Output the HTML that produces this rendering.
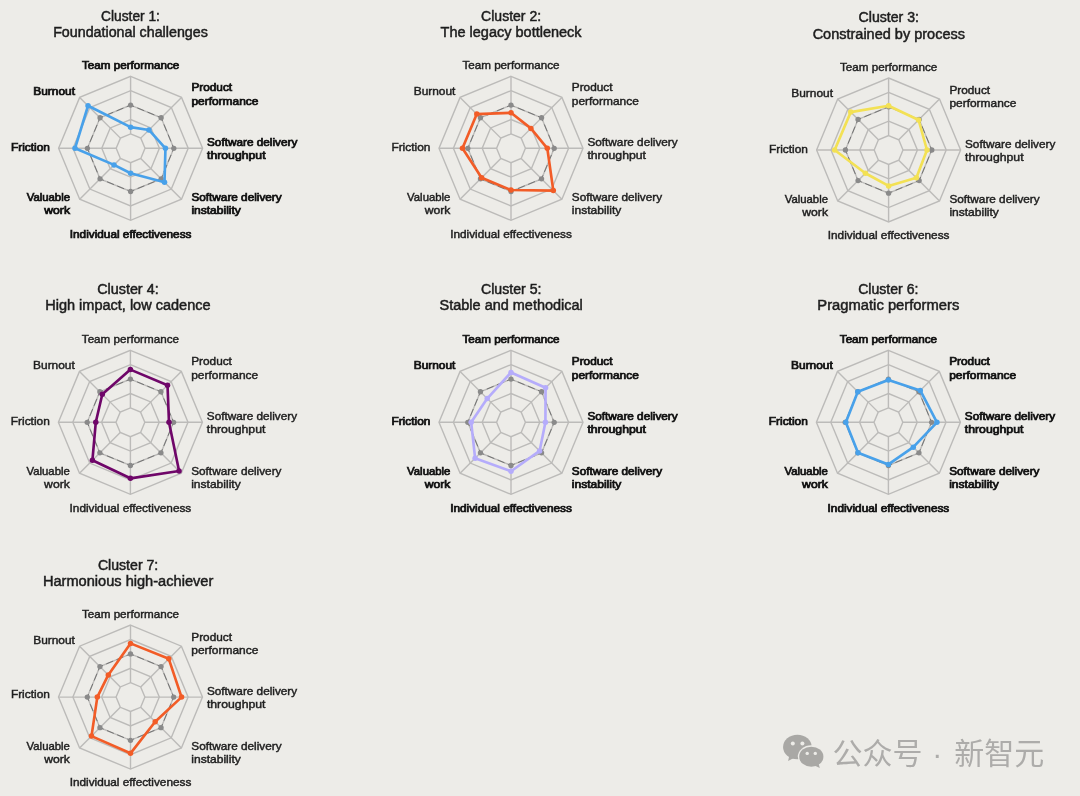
<!DOCTYPE html>
<html lang="en"><head><meta charset="utf-8"><title>Clusters</title>
<style>html,body{margin:0;padding:0;background:#edece8}body{width:1080px;height:796px;overflow:hidden}svg{display:block}
text{font-family:"Liberation Sans","Noto Sans CJK SC",sans-serif}
.t{font-size:14px;fill:#1d1d1d;stroke:#1d1d1d;stroke-width:.48px;text-anchor:middle}
.l{font-size:10.5px;fill:#1e1e1e;stroke:#1e1e1e;stroke-width:.42px}
.b{font-size:10.5px;fill:#111;stroke:#111;stroke-width:.72px}
.m{text-anchor:middle}.e{text-anchor:end}
.g{fill:none;stroke:#bcbbb9;stroke-width:1.4}
.d{fill:none;stroke:#737373;stroke-width:1;stroke-dasharray:7.4 3.6;stroke-dashoffset:3.7}
.k{fill:#8a8a8a}
.wm{font-size:30px;fill:#adacaa}
</style></head><body>
<svg width="1080" height="796" viewBox="0 0 1080 796">
<rect width="1080" height="796" fill="#edece8"/>
<g>
<text x="130.5" y="20.5" class="t" textLength="58.8" lengthAdjust="spacingAndGlyphs">Cluster 1:</text>
<text x="130.5" y="36.9" class="t" textLength="154.7" lengthAdjust="spacingAndGlyphs">Foundational challenges</text>
<polygon class="g" points="130.60,133.90 140.78,138.12 145.00,148.30 140.78,158.48 130.60,162.70 120.42,158.48 116.20,148.30 120.42,138.12"/>
<polygon class="g" points="130.60,119.50 150.96,127.94 159.40,148.30 150.96,168.66 130.60,177.10 110.24,168.66 101.80,148.30 110.24,127.94"/>
<polygon class="g" points="130.60,105.10 161.15,117.75 173.80,148.30 161.15,178.85 130.60,191.50 100.05,178.85 87.40,148.30 100.05,117.75"/>
<polygon class="g" points="130.60,90.70 171.33,107.57 188.20,148.30 171.33,189.03 130.60,205.90 89.87,189.03 73.00,148.30 89.87,107.57"/>
<polygon class="g" points="130.60,76.30 181.51,97.39 202.60,148.30 181.51,199.21 130.60,220.30 79.69,199.21 58.60,148.30 79.69,97.39"/>
<line class="g" x1="130.60" y1="133.90" x2="130.60" y2="76.30"/>
<line class="g" x1="140.78" y1="138.12" x2="181.51" y2="97.39"/>
<line class="g" x1="145.00" y1="148.30" x2="202.60" y2="148.30"/>
<line class="g" x1="140.78" y1="158.48" x2="181.51" y2="199.21"/>
<line class="g" x1="130.60" y1="162.70" x2="130.60" y2="220.30"/>
<line class="g" x1="120.42" y1="158.48" x2="79.69" y2="199.21"/>
<line class="g" x1="116.20" y1="148.30" x2="58.60" y2="148.30"/>
<line class="g" x1="120.42" y1="138.12" x2="79.69" y2="97.39"/>
<polygon class="d" points="130.60,105.10 161.15,117.75 173.80,148.30 161.15,178.85 130.60,191.50 100.05,178.85 87.40,148.30 100.05,117.75"/>
<circle class="k" cx="130.60" cy="105.10" r="2.65"/>
<circle class="k" cx="161.15" cy="117.75" r="2.65"/>
<circle class="k" cx="173.80" cy="148.30" r="2.65"/>
<circle class="k" cx="161.15" cy="178.85" r="2.65"/>
<circle class="k" cx="130.60" cy="191.50" r="2.65"/>
<circle class="k" cx="100.05" cy="178.85" r="2.65"/>
<circle class="k" cx="87.40" cy="148.30" r="2.65"/>
<circle class="k" cx="100.05" cy="117.75" r="2.65"/>
<polygon fill="none" stroke="#48a1ea" stroke-width="2.65" stroke-linejoin="round" points="130.60,127.13 148.93,129.97 165.45,148.30 164.51,182.21 130.60,173.21 114.00,164.90 75.02,148.30 88.04,105.74"/>
<circle fill="#48a1ea" cx="130.60" cy="127.13" r="2.75"/>
<circle fill="#48a1ea" cx="148.93" cy="129.97" r="2.75"/>
<circle fill="#48a1ea" cx="165.45" cy="148.30" r="2.75"/>
<circle fill="#48a1ea" cx="164.51" cy="182.21" r="2.75"/>
<circle fill="#48a1ea" cx="130.60" cy="173.21" r="2.75"/>
<circle fill="#48a1ea" cx="114.00" cy="164.90" r="2.75"/>
<circle fill="#48a1ea" cx="75.02" cy="148.30" r="2.75"/>
<circle fill="#48a1ea" cx="88.04" cy="105.74" r="2.75"/>
<text x="130.6" y="68.9" class="b m" textLength="97.2" lengthAdjust="spacingAndGlyphs">Team performance</text>
<text x="75.0" y="95.0" class="b e" textLength="41.7" lengthAdjust="spacingAndGlyphs">Burnout</text>
<text x="191.4" y="91.3" class="b" textLength="40.7" lengthAdjust="spacingAndGlyphs">Product</text>
<text x="191.4" y="104.6" class="b" textLength="67.0" lengthAdjust="spacingAndGlyphs">performance</text>
<text x="207.0" y="146.0" class="b" textLength="90.3" lengthAdjust="spacingAndGlyphs">Software delivery</text>
<text x="207.0" y="159.3" class="b" textLength="58.6" lengthAdjust="spacingAndGlyphs">throughput</text>
<text x="50.0" y="151.0" class="b e" textLength="39.0" lengthAdjust="spacingAndGlyphs">Friction</text>
<text x="70.0" y="200.6" class="b e" textLength="43.3" lengthAdjust="spacingAndGlyphs">Valuable</text>
<text x="70.0" y="213.7" class="b e" textLength="25.7" lengthAdjust="spacingAndGlyphs">work</text>
<text x="191.4" y="200.8" class="b" textLength="90.3" lengthAdjust="spacingAndGlyphs">Software delivery</text>
<text x="191.4" y="213.8" class="b" textLength="49.5" lengthAdjust="spacingAndGlyphs">instability</text>
<text x="130.6" y="237.9" class="b m" textLength="121.7" lengthAdjust="spacingAndGlyphs">Individual effectiveness</text>
</g>
<g>
<text x="511.1" y="20.5" class="t" textLength="60.0" lengthAdjust="spacingAndGlyphs">Cluster 2:</text>
<text x="511.1" y="36.9" class="t" textLength="141.0" lengthAdjust="spacingAndGlyphs">The legacy bottleneck</text>
<polygon class="g" points="511.00,133.90 521.18,138.12 525.40,148.30 521.18,158.48 511.00,162.70 500.82,158.48 496.60,148.30 500.82,138.12"/>
<polygon class="g" points="511.00,119.50 531.36,127.94 539.80,148.30 531.36,168.66 511.00,177.10 490.64,168.66 482.20,148.30 490.64,127.94"/>
<polygon class="g" points="511.00,105.10 541.55,117.75 554.20,148.30 541.55,178.85 511.00,191.50 480.45,178.85 467.80,148.30 480.45,117.75"/>
<polygon class="g" points="511.00,90.70 551.73,107.57 568.60,148.30 551.73,189.03 511.00,205.90 470.27,189.03 453.40,148.30 470.27,107.57"/>
<polygon class="g" points="511.00,76.30 561.91,97.39 583.00,148.30 561.91,199.21 511.00,220.30 460.09,199.21 439.00,148.30 460.09,97.39"/>
<line class="g" x1="511.00" y1="133.90" x2="511.00" y2="76.30"/>
<line class="g" x1="521.18" y1="138.12" x2="561.91" y2="97.39"/>
<line class="g" x1="525.40" y1="148.30" x2="583.00" y2="148.30"/>
<line class="g" x1="521.18" y1="158.48" x2="561.91" y2="199.21"/>
<line class="g" x1="511.00" y1="162.70" x2="511.00" y2="220.30"/>
<line class="g" x1="500.82" y1="158.48" x2="460.09" y2="199.21"/>
<line class="g" x1="496.60" y1="148.30" x2="439.00" y2="148.30"/>
<line class="g" x1="500.82" y1="138.12" x2="460.09" y2="97.39"/>
<polygon class="d" points="511.00,105.10 541.55,117.75 554.20,148.30 541.55,178.85 511.00,191.50 480.45,178.85 467.80,148.30 480.45,117.75"/>
<circle class="k" cx="511.00" cy="105.10" r="2.65"/>
<circle class="k" cx="541.55" cy="117.75" r="2.65"/>
<circle class="k" cx="554.20" cy="148.30" r="2.65"/>
<circle class="k" cx="541.55" cy="178.85" r="2.65"/>
<circle class="k" cx="511.00" cy="191.50" r="2.65"/>
<circle class="k" cx="480.45" cy="178.85" r="2.65"/>
<circle class="k" cx="467.80" cy="148.30" r="2.65"/>
<circle class="k" cx="480.45" cy="117.75" r="2.65"/>
<polygon fill="none" stroke="#f25c27" stroke-width="2.65" stroke-linejoin="round" points="511.00,112.80 530.91,128.39 547.29,148.30 553.31,190.61 511.00,189.99 481.62,177.68 462.47,148.30 476.79,114.09"/>
<circle fill="#f25c27" cx="511.00" cy="112.80" r="2.75"/>
<circle fill="#f25c27" cx="530.91" cy="128.39" r="2.75"/>
<circle fill="#f25c27" cx="547.29" cy="148.30" r="2.75"/>
<circle fill="#f25c27" cx="553.31" cy="190.61" r="2.75"/>
<circle fill="#f25c27" cx="511.00" cy="189.99" r="2.75"/>
<circle fill="#f25c27" cx="481.62" cy="177.68" r="2.75"/>
<circle fill="#f25c27" cx="462.47" cy="148.30" r="2.75"/>
<circle fill="#f25c27" cx="476.79" cy="114.09" r="2.75"/>
<text x="511.0" y="68.9" class="l m" textLength="97.2" lengthAdjust="spacingAndGlyphs">Team performance</text>
<text x="455.4" y="95.0" class="l e" textLength="41.7" lengthAdjust="spacingAndGlyphs">Burnout</text>
<text x="571.8" y="91.3" class="l" textLength="40.7" lengthAdjust="spacingAndGlyphs">Product</text>
<text x="571.8" y="104.6" class="l" textLength="67.0" lengthAdjust="spacingAndGlyphs">performance</text>
<text x="587.4" y="146.0" class="l" textLength="90.3" lengthAdjust="spacingAndGlyphs">Software delivery</text>
<text x="587.4" y="159.3" class="l" textLength="58.6" lengthAdjust="spacingAndGlyphs">throughput</text>
<text x="430.4" y="151.0" class="l e" textLength="39.0" lengthAdjust="spacingAndGlyphs">Friction</text>
<text x="450.4" y="200.6" class="l e" textLength="43.3" lengthAdjust="spacingAndGlyphs">Valuable</text>
<text x="450.4" y="213.7" class="l e" textLength="25.7" lengthAdjust="spacingAndGlyphs">work</text>
<text x="571.8" y="200.8" class="l" textLength="90.3" lengthAdjust="spacingAndGlyphs">Software delivery</text>
<text x="571.8" y="213.8" class="l" textLength="49.5" lengthAdjust="spacingAndGlyphs">instability</text>
<text x="511.0" y="237.9" class="l m" textLength="121.7" lengthAdjust="spacingAndGlyphs">Individual effectiveness</text>
</g>
<g>
<text x="888.8" y="22.2" class="t" textLength="60.5" lengthAdjust="spacingAndGlyphs">Cluster 3:</text>
<text x="888.8" y="38.6" class="t" textLength="152.3" lengthAdjust="spacingAndGlyphs">Constrained by process</text>
<polygon class="g" points="888.60,135.60 898.78,139.82 903.00,150.00 898.78,160.18 888.60,164.40 878.42,160.18 874.20,150.00 878.42,139.82"/>
<polygon class="g" points="888.60,121.20 908.96,129.64 917.40,150.00 908.96,170.36 888.60,178.80 868.24,170.36 859.80,150.00 868.24,129.64"/>
<polygon class="g" points="888.60,106.80 919.15,119.45 931.80,150.00 919.15,180.55 888.60,193.20 858.05,180.55 845.40,150.00 858.05,119.45"/>
<polygon class="g" points="888.60,92.40 929.33,109.27 946.20,150.00 929.33,190.73 888.60,207.60 847.87,190.73 831.00,150.00 847.87,109.27"/>
<polygon class="g" points="888.60,78.00 939.51,99.09 960.60,150.00 939.51,200.91 888.60,222.00 837.69,200.91 816.60,150.00 837.69,99.09"/>
<line class="g" x1="888.60" y1="135.60" x2="888.60" y2="78.00"/>
<line class="g" x1="898.78" y1="139.82" x2="939.51" y2="99.09"/>
<line class="g" x1="903.00" y1="150.00" x2="960.60" y2="150.00"/>
<line class="g" x1="898.78" y1="160.18" x2="939.51" y2="200.91"/>
<line class="g" x1="888.60" y1="164.40" x2="888.60" y2="222.00"/>
<line class="g" x1="878.42" y1="160.18" x2="837.69" y2="200.91"/>
<line class="g" x1="874.20" y1="150.00" x2="816.60" y2="150.00"/>
<line class="g" x1="878.42" y1="139.82" x2="837.69" y2="99.09"/>
<polygon class="d" points="888.60,106.80 919.15,119.45 931.80,150.00 919.15,180.55 888.60,193.20 858.05,180.55 845.40,150.00 858.05,119.45"/>
<circle class="k" cx="888.60" cy="106.80" r="2.65"/>
<circle class="k" cx="919.15" cy="119.45" r="2.65"/>
<circle class="k" cx="931.80" cy="150.00" r="2.65"/>
<circle class="k" cx="919.15" cy="180.55" r="2.65"/>
<circle class="k" cx="888.60" cy="193.20" r="2.65"/>
<circle class="k" cx="858.05" cy="180.55" r="2.65"/>
<circle class="k" cx="845.40" cy="150.00" r="2.65"/>
<circle class="k" cx="858.05" cy="119.45" r="2.65"/>
<polygon fill="none" stroke="#f3e154" stroke-width="2.65" stroke-linejoin="round" points="888.60,105.79 918.59,120.01 926.98,150.00 916.40,177.80 888.60,185.93 865.38,173.22 834.67,150.00 850.72,112.12"/>
<circle fill="#f3e154" cx="888.60" cy="105.79" r="2.75"/>
<circle fill="#f3e154" cx="918.59" cy="120.01" r="2.75"/>
<circle fill="#f3e154" cx="926.98" cy="150.00" r="2.75"/>
<circle fill="#f3e154" cx="916.40" cy="177.80" r="2.75"/>
<circle fill="#f3e154" cx="888.60" cy="185.93" r="2.75"/>
<circle fill="#f3e154" cx="865.38" cy="173.22" r="2.75"/>
<circle fill="#f3e154" cx="834.67" cy="150.00" r="2.75"/>
<circle fill="#f3e154" cx="850.72" cy="112.12" r="2.75"/>
<text x="888.6" y="70.6" class="l m" textLength="97.2" lengthAdjust="spacingAndGlyphs">Team performance</text>
<text x="833.0" y="96.7" class="l e" textLength="41.7" lengthAdjust="spacingAndGlyphs">Burnout</text>
<text x="949.4" y="93.9" class="l" textLength="40.7" lengthAdjust="spacingAndGlyphs">Product</text>
<text x="949.4" y="107.2" class="l" textLength="67.0" lengthAdjust="spacingAndGlyphs">performance</text>
<text x="965.0" y="147.7" class="l" textLength="90.3" lengthAdjust="spacingAndGlyphs">Software delivery</text>
<text x="965.0" y="161.0" class="l" textLength="58.6" lengthAdjust="spacingAndGlyphs">throughput</text>
<text x="808.0" y="153.3" class="l e" textLength="39.0" lengthAdjust="spacingAndGlyphs">Friction</text>
<text x="828.0" y="203.2" class="l e" textLength="43.3" lengthAdjust="spacingAndGlyphs">Valuable</text>
<text x="828.0" y="216.4" class="l e" textLength="25.7" lengthAdjust="spacingAndGlyphs">work</text>
<text x="949.4" y="202.5" class="l" textLength="90.3" lengthAdjust="spacingAndGlyphs">Software delivery</text>
<text x="949.4" y="215.5" class="l" textLength="49.5" lengthAdjust="spacingAndGlyphs">instability</text>
<text x="888.6" y="239.1" class="l m" textLength="121.7" lengthAdjust="spacingAndGlyphs">Individual effectiveness</text>
</g>
<g>
<text x="127.9" y="293.9" class="t" textLength="61.5" lengthAdjust="spacingAndGlyphs">Cluster 4:</text>
<text x="127.9" y="310.3" class="t" textLength="165.4" lengthAdjust="spacingAndGlyphs">High impact, low cadence</text>
<polygon class="g" points="130.40,407.90 140.58,412.12 144.80,422.30 140.58,432.48 130.40,436.70 120.22,432.48 116.00,422.30 120.22,412.12"/>
<polygon class="g" points="130.40,393.50 150.76,401.94 159.20,422.30 150.76,442.66 130.40,451.10 110.04,442.66 101.60,422.30 110.04,401.94"/>
<polygon class="g" points="130.40,379.10 160.95,391.75 173.60,422.30 160.95,452.85 130.40,465.50 99.85,452.85 87.20,422.30 99.85,391.75"/>
<polygon class="g" points="130.40,364.70 171.13,381.57 188.00,422.30 171.13,463.03 130.40,479.90 89.67,463.03 72.80,422.30 89.67,381.57"/>
<polygon class="g" points="130.40,350.30 181.31,371.39 202.40,422.30 181.31,473.21 130.40,494.30 79.49,473.21 58.40,422.30 79.49,371.39"/>
<line class="g" x1="130.40" y1="407.90" x2="130.40" y2="350.30"/>
<line class="g" x1="140.58" y1="412.12" x2="181.31" y2="371.39"/>
<line class="g" x1="144.80" y1="422.30" x2="202.40" y2="422.30"/>
<line class="g" x1="140.58" y1="432.48" x2="181.31" y2="473.21"/>
<line class="g" x1="130.40" y1="436.70" x2="130.40" y2="494.30"/>
<line class="g" x1="120.22" y1="432.48" x2="79.49" y2="473.21"/>
<line class="g" x1="116.00" y1="422.30" x2="58.40" y2="422.30"/>
<line class="g" x1="120.22" y1="412.12" x2="79.49" y2="371.39"/>
<polygon class="d" points="130.40,379.10 160.95,391.75 173.60,422.30 160.95,452.85 130.40,465.50 99.85,452.85 87.20,422.30 99.85,391.75"/>
<circle class="k" cx="130.40" cy="379.10" r="2.65"/>
<circle class="k" cx="160.95" cy="391.75" r="2.65"/>
<circle class="k" cx="173.60" cy="422.30" r="2.65"/>
<circle class="k" cx="160.95" cy="452.85" r="2.65"/>
<circle class="k" cx="130.40" cy="465.50" r="2.65"/>
<circle class="k" cx="99.85" cy="452.85" r="2.65"/>
<circle class="k" cx="87.20" cy="422.30" r="2.65"/>
<circle class="k" cx="99.85" cy="391.75" r="2.65"/>
<polygon fill="none" stroke="#6f0669" stroke-width="2.65" stroke-linejoin="round" points="130.40,369.60 167.51,385.19 168.99,422.30 179.07,470.97 130.40,478.32 92.42,460.28 95.77,422.30 102.30,394.20"/>
<circle fill="#6f0669" cx="130.40" cy="369.60" r="2.75"/>
<circle fill="#6f0669" cx="167.51" cy="385.19" r="2.75"/>
<circle fill="#6f0669" cx="168.99" cy="422.30" r="2.75"/>
<circle fill="#6f0669" cx="179.07" cy="470.97" r="2.75"/>
<circle fill="#6f0669" cx="130.40" cy="478.32" r="2.75"/>
<circle fill="#6f0669" cx="92.42" cy="460.28" r="2.75"/>
<circle fill="#6f0669" cx="95.77" cy="422.30" r="2.75"/>
<circle fill="#6f0669" cx="102.30" cy="394.20" r="2.75"/>
<text x="130.4" y="342.9" class="l m" textLength="97.2" lengthAdjust="spacingAndGlyphs">Team performance</text>
<text x="74.8" y="369.0" class="l e" textLength="41.7" lengthAdjust="spacingAndGlyphs">Burnout</text>
<text x="191.2" y="365.3" class="l" textLength="40.7" lengthAdjust="spacingAndGlyphs">Product</text>
<text x="191.2" y="378.6" class="l" textLength="67.0" lengthAdjust="spacingAndGlyphs">performance</text>
<text x="206.8" y="420.0" class="l" textLength="90.3" lengthAdjust="spacingAndGlyphs">Software delivery</text>
<text x="206.8" y="433.3" class="l" textLength="58.6" lengthAdjust="spacingAndGlyphs">throughput</text>
<text x="49.8" y="425.0" class="l e" textLength="39.0" lengthAdjust="spacingAndGlyphs">Friction</text>
<text x="69.8" y="474.6" class="l e" textLength="43.3" lengthAdjust="spacingAndGlyphs">Valuable</text>
<text x="69.8" y="487.7" class="l e" textLength="25.7" lengthAdjust="spacingAndGlyphs">work</text>
<text x="191.2" y="474.8" class="l" textLength="90.3" lengthAdjust="spacingAndGlyphs">Software delivery</text>
<text x="191.2" y="487.8" class="l" textLength="49.5" lengthAdjust="spacingAndGlyphs">instability</text>
<text x="130.4" y="511.9" class="l m" textLength="121.7" lengthAdjust="spacingAndGlyphs">Individual effectiveness</text>
</g>
<g>
<text x="511.2" y="293.9" class="t" textLength="60.5" lengthAdjust="spacingAndGlyphs">Cluster 5:</text>
<text x="511.2" y="310.3" class="t" textLength="143.3" lengthAdjust="spacingAndGlyphs">Stable and methodical</text>
<polygon class="g" points="511.00,407.90 521.18,412.12 525.40,422.30 521.18,432.48 511.00,436.70 500.82,432.48 496.60,422.30 500.82,412.12"/>
<polygon class="g" points="511.00,393.50 531.36,401.94 539.80,422.30 531.36,442.66 511.00,451.10 490.64,442.66 482.20,422.30 490.64,401.94"/>
<polygon class="g" points="511.00,379.10 541.55,391.75 554.20,422.30 541.55,452.85 511.00,465.50 480.45,452.85 467.80,422.30 480.45,391.75"/>
<polygon class="g" points="511.00,364.70 551.73,381.57 568.60,422.30 551.73,463.03 511.00,479.90 470.27,463.03 453.40,422.30 470.27,381.57"/>
<polygon class="g" points="511.00,350.30 561.91,371.39 583.00,422.30 561.91,473.21 511.00,494.30 460.09,473.21 439.00,422.30 460.09,371.39"/>
<line class="g" x1="511.00" y1="407.90" x2="511.00" y2="350.30"/>
<line class="g" x1="521.18" y1="412.12" x2="561.91" y2="371.39"/>
<line class="g" x1="525.40" y1="422.30" x2="583.00" y2="422.30"/>
<line class="g" x1="521.18" y1="432.48" x2="561.91" y2="473.21"/>
<line class="g" x1="511.00" y1="436.70" x2="511.00" y2="494.30"/>
<line class="g" x1="500.82" y1="432.48" x2="460.09" y2="473.21"/>
<line class="g" x1="496.60" y1="422.30" x2="439.00" y2="422.30"/>
<line class="g" x1="500.82" y1="412.12" x2="460.09" y2="371.39"/>
<polygon class="d" points="511.00,379.10 541.55,391.75 554.20,422.30 541.55,452.85 511.00,465.50 480.45,452.85 467.80,422.30 480.45,391.75"/>
<circle class="k" cx="511.00" cy="379.10" r="2.65"/>
<circle class="k" cx="541.55" cy="391.75" r="2.65"/>
<circle class="k" cx="554.20" cy="422.30" r="2.65"/>
<circle class="k" cx="541.55" cy="452.85" r="2.65"/>
<circle class="k" cx="511.00" cy="465.50" r="2.65"/>
<circle class="k" cx="480.45" cy="452.85" r="2.65"/>
<circle class="k" cx="467.80" cy="422.30" r="2.65"/>
<circle class="k" cx="480.45" cy="391.75" r="2.65"/>
<polygon fill="none" stroke="#b5acfb" stroke-width="2.65" stroke-linejoin="round" points="511.00,372.48 545.57,387.73 545.42,422.30 539.61,450.91 511.00,471.26 475.11,458.19 471.18,422.30 487.22,398.52"/>
<circle fill="#b5acfb" cx="511.00" cy="372.48" r="2.75"/>
<circle fill="#b5acfb" cx="545.57" cy="387.73" r="2.75"/>
<circle fill="#b5acfb" cx="545.42" cy="422.30" r="2.75"/>
<circle fill="#b5acfb" cx="539.61" cy="450.91" r="2.75"/>
<circle fill="#b5acfb" cx="511.00" cy="471.26" r="2.75"/>
<circle fill="#b5acfb" cx="475.11" cy="458.19" r="2.75"/>
<circle fill="#b5acfb" cx="471.18" cy="422.30" r="2.75"/>
<circle fill="#b5acfb" cx="487.22" cy="398.52" r="2.75"/>
<text x="511.0" y="343.2" class="b m" textLength="97.2" lengthAdjust="spacingAndGlyphs">Team performance</text>
<text x="455.4" y="368.6" class="b e" textLength="41.7" lengthAdjust="spacingAndGlyphs">Burnout</text>
<text x="571.8" y="365.3" class="b" textLength="40.7" lengthAdjust="spacingAndGlyphs">Product</text>
<text x="571.8" y="378.6" class="b" textLength="67.0" lengthAdjust="spacingAndGlyphs">performance</text>
<text x="587.4" y="420.0" class="b" textLength="90.3" lengthAdjust="spacingAndGlyphs">Software delivery</text>
<text x="587.4" y="433.3" class="b" textLength="58.6" lengthAdjust="spacingAndGlyphs">throughput</text>
<text x="430.4" y="425.0" class="b e" textLength="39.0" lengthAdjust="spacingAndGlyphs">Friction</text>
<text x="450.4" y="474.9" class="b e" textLength="43.3" lengthAdjust="spacingAndGlyphs">Valuable</text>
<text x="450.4" y="488.0" class="b e" textLength="25.7" lengthAdjust="spacingAndGlyphs">work</text>
<text x="571.8" y="474.8" class="b" textLength="90.3" lengthAdjust="spacingAndGlyphs">Software delivery</text>
<text x="571.8" y="487.8" class="b" textLength="49.5" lengthAdjust="spacingAndGlyphs">instability</text>
<text x="511.0" y="511.9" class="b m" textLength="121.7" lengthAdjust="spacingAndGlyphs">Individual effectiveness</text>
</g>
<g>
<text x="888.3" y="293.9" class="t" textLength="60.2" lengthAdjust="spacingAndGlyphs">Cluster 6:</text>
<text x="888.3" y="310.3" class="t" textLength="142.0" lengthAdjust="spacingAndGlyphs">Pragmatic performers</text>
<polygon class="g" points="888.40,407.90 898.58,412.12 902.80,422.30 898.58,432.48 888.40,436.70 878.22,432.48 874.00,422.30 878.22,412.12"/>
<polygon class="g" points="888.40,393.50 908.76,401.94 917.20,422.30 908.76,442.66 888.40,451.10 868.04,442.66 859.60,422.30 868.04,401.94"/>
<polygon class="g" points="888.40,379.10 918.95,391.75 931.60,422.30 918.95,452.85 888.40,465.50 857.85,452.85 845.20,422.30 857.85,391.75"/>
<polygon class="g" points="888.40,364.70 929.13,381.57 946.00,422.30 929.13,463.03 888.40,479.90 847.67,463.03 830.80,422.30 847.67,381.57"/>
<polygon class="g" points="888.40,350.30 939.31,371.39 960.40,422.30 939.31,473.21 888.40,494.30 837.49,473.21 816.40,422.30 837.49,371.39"/>
<line class="g" x1="888.40" y1="407.90" x2="888.40" y2="350.30"/>
<line class="g" x1="898.58" y1="412.12" x2="939.31" y2="371.39"/>
<line class="g" x1="902.80" y1="422.30" x2="960.40" y2="422.30"/>
<line class="g" x1="898.58" y1="432.48" x2="939.31" y2="473.21"/>
<line class="g" x1="888.40" y1="436.70" x2="888.40" y2="494.30"/>
<line class="g" x1="878.22" y1="432.48" x2="837.49" y2="473.21"/>
<line class="g" x1="874.00" y1="422.30" x2="816.40" y2="422.30"/>
<line class="g" x1="878.22" y1="412.12" x2="837.49" y2="371.39"/>
<polygon class="d" points="888.40,379.10 918.95,391.75 931.60,422.30 918.95,452.85 888.40,465.50 857.85,452.85 845.20,422.30 857.85,391.75"/>
<circle class="k" cx="888.40" cy="379.10" r="2.65"/>
<circle class="k" cx="918.95" cy="391.75" r="2.65"/>
<circle class="k" cx="931.60" cy="422.30" r="2.65"/>
<circle class="k" cx="918.95" cy="452.85" r="2.65"/>
<circle class="k" cx="888.40" cy="465.50" r="2.65"/>
<circle class="k" cx="857.85" cy="452.85" r="2.65"/>
<circle class="k" cx="845.20" cy="422.30" r="2.65"/>
<circle class="k" cx="857.85" cy="391.75" r="2.65"/>
<polygon fill="none" stroke="#48a1ea" stroke-width="2.65" stroke-linejoin="round" points="888.40,379.96 920.27,390.43 936.93,422.30 913.30,447.20 888.40,464.42 858.01,452.69 845.85,422.30 857.80,391.70"/>
<circle fill="#48a1ea" cx="888.40" cy="379.96" r="2.75"/>
<circle fill="#48a1ea" cx="920.27" cy="390.43" r="2.75"/>
<circle fill="#48a1ea" cx="936.93" cy="422.30" r="2.75"/>
<circle fill="#48a1ea" cx="913.30" cy="447.20" r="2.75"/>
<circle fill="#48a1ea" cx="888.40" cy="464.42" r="2.75"/>
<circle fill="#48a1ea" cx="858.01" cy="452.69" r="2.75"/>
<circle fill="#48a1ea" cx="845.85" cy="422.30" r="2.75"/>
<circle fill="#48a1ea" cx="857.80" cy="391.70" r="2.75"/>
<text x="888.4" y="342.9" class="b m" textLength="97.2" lengthAdjust="spacingAndGlyphs">Team performance</text>
<text x="832.8" y="369.0" class="b e" textLength="41.7" lengthAdjust="spacingAndGlyphs">Burnout</text>
<text x="949.2" y="365.3" class="b" textLength="40.7" lengthAdjust="spacingAndGlyphs">Product</text>
<text x="949.2" y="378.6" class="b" textLength="67.0" lengthAdjust="spacingAndGlyphs">performance</text>
<text x="964.8" y="420.0" class="b" textLength="90.3" lengthAdjust="spacingAndGlyphs">Software delivery</text>
<text x="964.8" y="433.3" class="b" textLength="58.6" lengthAdjust="spacingAndGlyphs">throughput</text>
<text x="807.8" y="425.0" class="b e" textLength="39.0" lengthAdjust="spacingAndGlyphs">Friction</text>
<text x="827.8" y="474.6" class="b e" textLength="43.3" lengthAdjust="spacingAndGlyphs">Valuable</text>
<text x="827.8" y="487.7" class="b e" textLength="25.7" lengthAdjust="spacingAndGlyphs">work</text>
<text x="949.2" y="474.8" class="b" textLength="90.3" lengthAdjust="spacingAndGlyphs">Software delivery</text>
<text x="949.2" y="487.8" class="b" textLength="49.5" lengthAdjust="spacingAndGlyphs">instability</text>
<text x="888.4" y="511.9" class="b m" textLength="121.7" lengthAdjust="spacingAndGlyphs">Individual effectiveness</text>
</g>
<g>
<text x="128.1" y="569.5" class="t" textLength="60.4" lengthAdjust="spacingAndGlyphs">Cluster 7:</text>
<text x="128.1" y="585.9" class="t" textLength="170.4" lengthAdjust="spacingAndGlyphs">Harmonious high-achiever</text>
<polygon class="g" points="130.50,682.70 140.68,686.92 144.90,697.10 140.68,707.28 130.50,711.50 120.32,707.28 116.10,697.10 120.32,686.92"/>
<polygon class="g" points="130.50,668.30 150.86,676.74 159.30,697.10 150.86,717.46 130.50,725.90 110.14,717.46 101.70,697.10 110.14,676.74"/>
<polygon class="g" points="130.50,653.90 161.05,666.55 173.70,697.10 161.05,727.65 130.50,740.30 99.95,727.65 87.30,697.10 99.95,666.55"/>
<polygon class="g" points="130.50,639.50 171.23,656.37 188.10,697.10 171.23,737.83 130.50,754.70 89.77,737.83 72.90,697.10 89.77,656.37"/>
<polygon class="g" points="130.50,625.10 181.41,646.19 202.50,697.10 181.41,748.01 130.50,769.10 79.59,748.01 58.50,697.10 79.59,646.19"/>
<line class="g" x1="130.50" y1="682.70" x2="130.50" y2="625.10"/>
<line class="g" x1="140.68" y1="686.92" x2="181.41" y2="646.19"/>
<line class="g" x1="144.90" y1="697.10" x2="202.50" y2="697.10"/>
<line class="g" x1="140.68" y1="707.28" x2="181.41" y2="748.01"/>
<line class="g" x1="130.50" y1="711.50" x2="130.50" y2="769.10"/>
<line class="g" x1="120.32" y1="707.28" x2="79.59" y2="748.01"/>
<line class="g" x1="116.10" y1="697.10" x2="58.50" y2="697.10"/>
<line class="g" x1="120.32" y1="686.92" x2="79.59" y2="646.19"/>
<polygon class="d" points="130.50,653.90 161.05,666.55 173.70,697.10 161.05,727.65 130.50,740.30 99.95,727.65 87.30,697.10 99.95,666.55"/>
<circle class="k" cx="130.50" cy="653.90" r="2.65"/>
<circle class="k" cx="161.05" cy="666.55" r="2.65"/>
<circle class="k" cx="173.70" cy="697.10" r="2.65"/>
<circle class="k" cx="161.05" cy="727.65" r="2.65"/>
<circle class="k" cx="130.50" cy="740.30" r="2.65"/>
<circle class="k" cx="99.95" cy="727.65" r="2.65"/>
<circle class="k" cx="87.30" cy="697.10" r="2.65"/>
<circle class="k" cx="99.95" cy="666.55" r="2.65"/>
<polygon fill="none" stroke="#f25c27" stroke-width="2.65" stroke-linejoin="round" points="130.50,643.39 168.79,658.81 181.55,697.10 155.19,721.79 130.50,753.33 91.50,736.10 97.31,697.10 108.30,674.90"/>
<circle fill="#f25c27" cx="130.50" cy="643.39" r="2.75"/>
<circle fill="#f25c27" cx="168.79" cy="658.81" r="2.75"/>
<circle fill="#f25c27" cx="181.55" cy="697.10" r="2.75"/>
<circle fill="#f25c27" cx="155.19" cy="721.79" r="2.75"/>
<circle fill="#f25c27" cx="130.50" cy="753.33" r="2.75"/>
<circle fill="#f25c27" cx="91.50" cy="736.10" r="2.75"/>
<circle fill="#f25c27" cx="97.31" cy="697.10" r="2.75"/>
<circle fill="#f25c27" cx="108.30" cy="674.90" r="2.75"/>
<text x="130.5" y="618.0" class="l m" textLength="97.2" lengthAdjust="spacingAndGlyphs">Team performance</text>
<text x="74.9" y="643.5" class="l e" textLength="41.7" lengthAdjust="spacingAndGlyphs">Burnout</text>
<text x="191.3" y="640.6" class="l" textLength="40.7" lengthAdjust="spacingAndGlyphs">Product</text>
<text x="191.3" y="653.9" class="l" textLength="67.0" lengthAdjust="spacingAndGlyphs">performance</text>
<text x="206.9" y="694.8" class="l" textLength="90.3" lengthAdjust="spacingAndGlyphs">Software delivery</text>
<text x="206.9" y="708.1" class="l" textLength="58.6" lengthAdjust="spacingAndGlyphs">throughput</text>
<text x="49.9" y="698.4" class="l e" textLength="39.0" lengthAdjust="spacingAndGlyphs">Friction</text>
<text x="69.9" y="749.8" class="l e" textLength="43.3" lengthAdjust="spacingAndGlyphs">Valuable</text>
<text x="69.9" y="763.1" class="l e" textLength="25.7" lengthAdjust="spacingAndGlyphs">work</text>
<text x="191.3" y="749.9" class="l" textLength="90.3" lengthAdjust="spacingAndGlyphs">Software delivery</text>
<text x="191.3" y="762.9" class="l" textLength="49.5" lengthAdjust="spacingAndGlyphs">instability</text>
<text x="130.5" y="786.4" class="l m" textLength="121.7" lengthAdjust="spacingAndGlyphs">Individual effectiveness</text>
</g>
<g id="wm">
<ellipse cx="797.4" cy="747" rx="14.35" ry="12.25" fill="#a9a8a5"/>
<polygon points="789.3,755.5 788.1,761 793.8,758" fill="#a9a8a5"/>
<ellipse cx="811.3" cy="756.7" rx="13.5" ry="11.4" fill="#edece8"/>
<ellipse cx="811.3" cy="756.7" rx="12.1" ry="10.05" fill="#a9a8a5"/>
<polygon points="814.5,765.5 819.8,768.1 818.6,763.5" fill="#a9a8a5"/>
<circle cx="792.8" cy="743.5" r="2.0" fill="#edece8"/>
<circle cx="802.4" cy="743.5" r="2.0" fill="#edece8"/>
<circle cx="807.2" cy="753.4" r="1.7" fill="#edece8"/>
<circle cx="815.3" cy="753.4" r="1.7" fill="#edece8"/>
<text x="832.5" y="764" class="wm">公众号</text>
<text x="937.2" y="764" class="wm" text-anchor="middle">·</text>
<text x="954.3" y="764" class="wm">新智元</text>
</g>
</svg></body></html>
